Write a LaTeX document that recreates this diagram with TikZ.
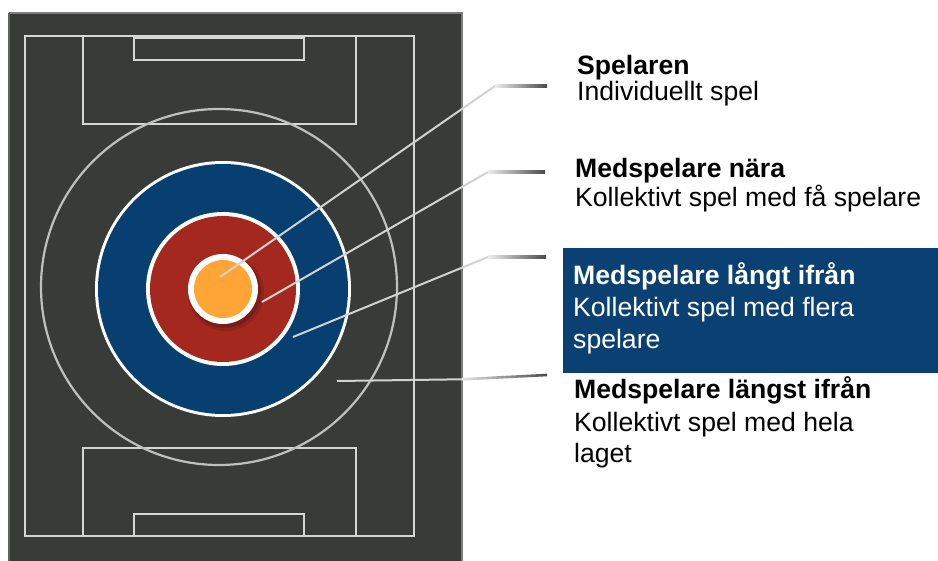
\documentclass[tikz,border=0pt]{standalone}
\usepackage{fontspec}
\setmainfont{Liberation Sans}
\definecolor{fieldc}{HTML}{393B38}
\definecolor{fieldedge}{HTML}{7C7E7B}
\definecolor{linec}{HTML}{D6D6D6}
\definecolor{circc}{HTML}{C0C0C0}
\definecolor{bluec}{HTML}{063F70}
\definecolor{boxc}{HTML}{0A4172}
\definecolor{redc}{HTML}{A5281E}
\definecolor{orangec}{HTML}{FFA535}
\definecolor{leadc}{HTML}{D2D2D2}
\definecolor{leaddark}{HTML}{4A4A4A}
\tikzset{
  pitchline/.style={draw=linec, line width=2pt},
  leader/.style={draw=leadc, line width=2pt},
  txt/.style={anchor=base west, inner sep=0pt, font=\fontsize{26.6}{30}\selectfont},
  btxt/.style={txt, font=\fontsize{26.6}{30}\selectfont\bfseries},
}
\begin{document}
\begin{tikzpicture}[x=1pt,y=-1pt]
\useasboundingbox (0,0) rectangle (938,561);
\fill[white] (0,0) rectangle (938,561);
% field
\fill[fieldc] (9,13) rectangle (462,561);
\draw[fieldedge, line width=2.5pt] (9,13) -- (462,13) -- (462,561);
\draw[fieldedge!60!fieldc, line width=1.5pt] (9,13) -- (9,561);
% markings
\draw[pitchline] (25,36) rectangle (414,536);
\draw[pitchline] (83,36) rectangle (356,124);
\draw[pitchline] (134,38) rectangle (304,60);
\draw[pitchline] (83,448) rectangle (356,536);
\draw[pitchline] (134,514) rectangle (304,536);
\draw[circc, line width=2.2pt] (219,287) circle (178);
% target rings
\node (ringblue) [circle, fill=white, minimum size=256pt, inner sep=0pt] at (223,289) {};
\node [circle, fill=bluec, minimum size=250pt, inner sep=0pt] at (223,289) {};
\node (ringred) [circle, fill=white, minimum size=154pt, inner sep=0pt] at (223,289) {};
\node [circle, fill=redc, minimum size=146pt, inner sep=0pt] at (223,289) {};
\fill[black, opacity=0.12] (226,293) circle (38);
\fill[black, opacity=0.15] (225,292) circle (36);
\node (ballwhite) [circle, fill=white, minimum size=70pt, inner sep=0pt] at (223,289) {};
\node (ball) [circle, fill=orangec, minimum size=58pt, inner sep=0pt] at (223,289) {};
% leader coordinates
\coordinate (a1) at (220,277); \coordinate (k1) at (495,86);  \coordinate (e1) at (547,86);
\coordinate (a2) at (262,302); \coordinate (k2) at (488,172); \coordinate (e2) at (545,172);
\coordinate (a3) at (293,337); \coordinate (k3) at (488,257); \coordinate (e3) at (546,257);
\coordinate (a4) at (337,381); \coordinate (e4) at (547,375);
\draw[leader] (a1) -- (k1);
\draw[leader] (a2) -- (k2);
\draw[leader] (a3) -- (k3);
\shade[left color=leadc!40, right color=leaddark] ([yshift=-1.3pt]k1) rectangle ([yshift=1.3pt]e1);
\shade[left color=leadc!40, right color=leaddark] ([yshift=-1.3pt]k2) rectangle ([yshift=1.3pt]e2);
\shade[left color=leadc!40, right color=leaddark] ([yshift=-1.3pt]k3) rectangle ([yshift=1.3pt]e3);
\draw[leader] (a4) -- (462,379.3);
\shade[left color=leadc!60, right color=leaddark] (462,378) -- (547,373.7) -- (547,376.3) -- (462,380.6) -- cycle;
% texts
\node[btxt] (t1) at (577,75) {Spelaren};
\node[txt] (t1b) at (577,101) {Individuellt spel};
\node[btxt] (t2) at (575,178) {Medspelare nära};
\node[txt] (t2b) at (575,207) {Kollektivt spel med få spelare};
\fill[boxc] (563,248) rectangle (938,373);
\node[btxt, text=white] (t3) at (573,285) {Medspelare långt ifrån};
\node[txt, text=white] (t3b) at (573,317) {Kollektivt spel med flera};
\node[txt, text=white] (t3c) at (573,349) {spelare};
\node[btxt] (t4) at (574,399) {Medspelare längst ifrån};
\node[txt] (t4b) at (574,432) {Kollektivt spel med hela};
\node[txt] (t4c) at (574,463) {laget};
\end{tikzpicture}
\end{document}
